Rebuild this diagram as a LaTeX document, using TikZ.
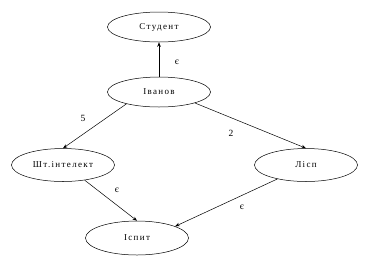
\documentclass[tikz,border=0pt]{standalone}
\usepackage{fontspec}
\setmainfont{Liberation Serif}
\newfontfamily\spaced[LetterSpace=15]{Liberation Serif}
\usetikzlibrary{shapes.geometric,arrows.meta}
\begin{document}
\begin{tikzpicture}[x=1pt,y=-1pt,
  vert/.style={draw,ellipse,line width=0.5pt,minimum width=103pt,minimum height=30pt,inner sep=0pt,font=\spaced\fontsize{9}{10}\selectfont},
  conn/.style={-{Stealth[length=4.5pt,width=3.5pt]},line width=0.5pt},
  lab/.style={font=\fontsize{9.5}{10}\selectfont,inner sep=0pt}]
\useasboundingbox (0,0) rectangle (377,269);
\node[vert] (st) at (159,27) {Студент};
\node[vert] (iv) at (159,92) {Іванов};
\node[vert,minimum height=33pt] (sh) at (63,165) {Шт.інтелект};
\node[vert,minimum height=33pt] (li) at (306,165) {Лісп};
\node[vert,minimum height=34pt] (is) at (137,238) {Іспит};
\draw[conn] (iv.north) -- (st.south);
\draw[conn] (iv.200) -- (sh.north);
\draw[conn] (iv.-17) -- (li.north);
\draw[conn] (sh.-35) -- (is.north);
\draw[conn] (li.-154) -- (is.17);
\node[lab] (l1) at (177,62) {є};
\node[lab] (l2) at (83,118) {5};
\node[lab] (l3) at (231,133) {2};
\node[lab] (l4) at (117,190) {є};
\node[lab] (l5) at (242,207) {є};
\end{tikzpicture}
\end{document}
